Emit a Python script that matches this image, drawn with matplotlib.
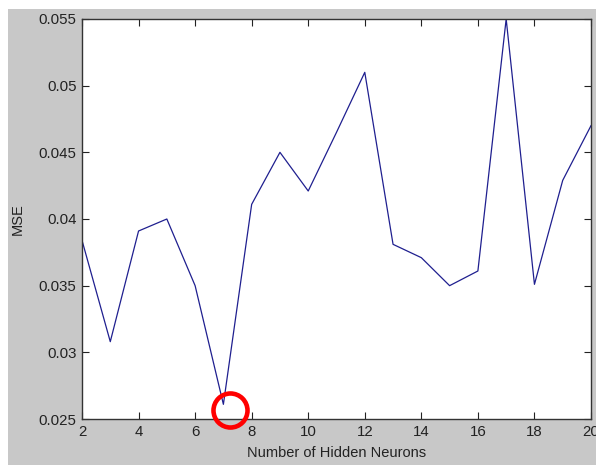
import matplotlib
matplotlib.use("Agg")
import matplotlib.pyplot as plt
from matplotlib.patches import Rectangle

neurons = [2, 3, 4, 5, 6, 7, 8, 9, 10, 11, 12, 13, 14, 15, 16, 17, 18, 19, 20]
mse = [0.0384, 0.0308, 0.0391, 0.0400, 0.0350, 0.0261, 0.0411, 0.0450, 0.0421,
       0.0465, 0.0510, 0.0381, 0.0371, 0.0350, 0.0361, 0.0550, 0.0351, 0.0429, 0.0470]
xticks = [2, 4, 6, 8, 10, 12, 14, 16, 18, 20]
yticks = [0.025, 0.03, 0.035, 0.04, 0.045, 0.05, 0.055]
ytick_labels = ["0.025", "0.03", "0.035", "0.04", "0.045", "0.05", "0.055"]
highlight = (7.25, 0.02565)

plt.rcParams['font.family'] = ['Liberation Sans', 'DejaVu Sans']

W, H = 596, 465
fig = plt.figure(figsize=(W / 100, H / 100), dpi=100, facecolor='white')
fig.patches.append(Rectangle((8 / W, 0), 1, (H - 9) / H, transform=fig.transFigure,
                             facecolor='#c8c8c8', edgecolor='none', zorder=-10))

ax = fig.add_axes([82 / W, (H - 419) / H, (591 - 82) / W, (419 - 19) / H])
ax.set_facecolor('white')
ax.plot(neurons, mse, color='#1f1f8f', lw=0.9)
ax.plot([highlight[0]], [highlight[1]], marker='o', markersize=24.5, markerfacecolor='none',
        markeredgecolor='#ff0000', markeredgewidth=3.3, clip_on=False, zorder=5)

ax.set_xlim(2, 20)
ax.set_ylim(0.025, 0.055)
ax.set_xticks(xticks)
ax.set_xticklabels([str(t) for t in xticks])
ax.set_yticks(yticks)
ax.set_yticklabels(ytick_labels)
ax.tick_params(direction='in', length=5, width=0.8, top=True, right=True,
               labelsize=10.8, colors='#222222', pad=4)
for s in ax.spines.values():
    s.set_linewidth(1.0)
    s.set_color('#333333')

ax.set_xlabel('Number of Hidden Neurons', fontsize=10.5, color='#222222', labelpad=5)
ax.set_ylabel('MSE', fontsize=10.5, color='#222222', labelpad=10)

fig.savefig('out.png', dpi=100, facecolor=fig.get_facecolor())
